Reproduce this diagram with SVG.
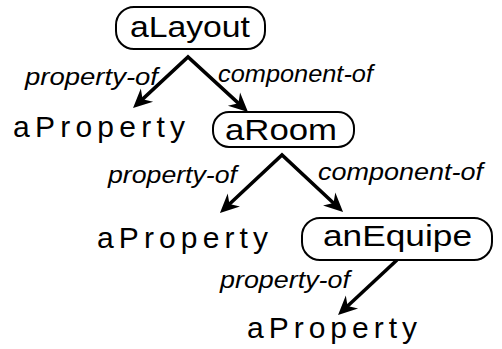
<svg xmlns="http://www.w3.org/2000/svg" width="502" height="349" viewBox="0 0 502 349">
  <style>
    .box { fill: #fff; stroke: #000; stroke-width: 2; }
    .name { font-family: "Liberation Sans", Arial, sans-serif; font-size: 30px; fill: #000; }
    .rel { font-family: "Liberation Sans", Arial, sans-serif; font-size: 23px; font-style: italic; fill: #000; }
    .edge { fill: none; stroke: #000; stroke-width: 3.5; stroke-linejoin: miter; }
  </style>
  <defs>
    <marker id="head" viewBox="-14 -10 24 20" refX="0" refY="0" markerWidth="24" markerHeight="20" markerUnits="userSpaceOnUse" orient="auto-start-reverse" overflow="visible">
      <path d="M8,0 L-11,-9 L-5,0 L-11,9 Z" fill="#000"/>
    </marker>
  </defs>
  <rect width="502" height="349" fill="#fff"/>

  <!-- connectors -->
  <g id="connectors">
    <path id="layout-edges" class="edge" d="M138.9,102.6 L188,57 L242.1,106.6" marker-start="url(#head)" marker-end="url(#head)"/>
    <path id="room-edges" class="edge" d="M225.8,207.5 L282,155 L337.2,206.5" marker-start="url(#head)" marker-end="url(#head)"/>
    <path id="equipe-edge" class="edge" d="M397,260 L343.9,309.5" marker-end="url(#head)"/>
    <text class="rel" x="25" y="85" textLength="133" lengthAdjust="spacingAndGlyphs">property-of</text>
    <text class="rel" x="218" y="82" textLength="155" lengthAdjust="spacingAndGlyphs">component-of</text>
    <text class="rel" x="108" y="183" textLength="129" lengthAdjust="spacingAndGlyphs">property-of</text>
    <text class="rel" x="318" y="180" textLength="165" lengthAdjust="spacingAndGlyphs">component-of</text>
    <text class="rel" x="220" y="288" textLength="130" lengthAdjust="spacingAndGlyphs">property-of</text>
  </g>

  <!-- nodes -->
  <g id="aLayout">
    <rect class="box" x="116" y="7" width="149" height="42" rx="18"/>
    <text class="name" x="130" y="37" textLength="120" lengthAdjust="spacingAndGlyphs">aLayout</text>
  </g>
  <g id="aProperty-1">
    <text class="name" x="13" y="137" textLength="172" lengthAdjust="spacing">aProperty</text>
  </g>
  <g id="aRoom">
    <rect class="box" x="213" y="112" width="141" height="35" rx="16"/>
    <text class="name" x="225" y="140" textLength="112" lengthAdjust="spacingAndGlyphs">aRoom</text>
  </g>
  <g id="aProperty-2">
    <text class="name" x="97" y="248" textLength="171" lengthAdjust="spacing">aProperty</text>
  </g>
  <g id="anEquipe">
    <rect class="box" x="302" y="218" width="190" height="42" rx="18"/>
    <text class="name" x="323" y="246" textLength="149" lengthAdjust="spacingAndGlyphs">anEquipe</text>
  </g>
  <g id="aProperty-3">
    <text class="name" x="247" y="338" textLength="170" lengthAdjust="spacing">aProperty</text>
  </g>
</svg>
